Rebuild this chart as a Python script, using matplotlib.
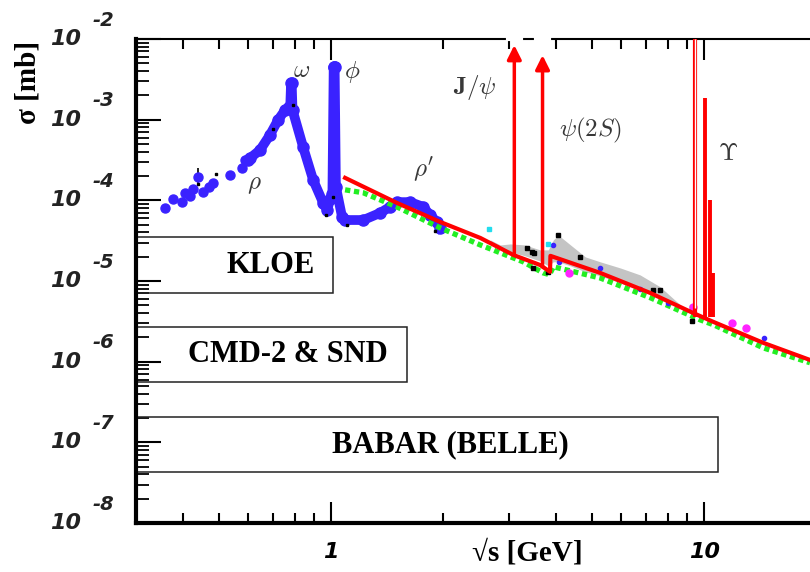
import numpy as np
import matplotlib
matplotlib.use("Agg")
import matplotlib.pyplot as plt
from matplotlib.patches import Rectangle
import matplotlib.transforms as mtransforms

plt.rcParams['mathtext.fontset'] = 'cm'

# low energy data (sparse points), GeV / mb
lo_x = [0.359, 0.377, 0.399, 0.406, 0.419, 0.427, 0.440, 0.454, 0.471, 0.483, 0.536, 0.577, 0.588]
lo_y = [8.05e-5, 1.04e-4, 9.5e-5, 1.24e-4, 1.13e-4, 1.38e-4, 1.95e-4, 1.27e-4, 1.47e-4, 1.64e-4, 2.06e-4, 2.52e-4, 3.17e-4]

# dense low energy data (rho, omega, phi, rho')
hd_x = [0.600, 0.607, 0.645, 0.686, 0.721, 0.753, 0.770, 0.777, 0.781, 0.784, 0.788, 0.841, 0.895,
        0.952, 0.976, 0.995, 1.008, 1.016, 1.019, 1.022, 1.03, 1.07, 1.09, 1.22, 1.353, 1.439, 1.50,
        1.63, 1.765, 1.84, 1.92, 1.96]
hd_y = [3.2e-4, 3.35e-4, 4.2e-4, 6.5e-4, 9.9e-4, 1.32e-3, 1.44e-3, 1.44e-3, 2.85e-3, 2.85e-3, 1.32e-3,
        4.6e-4, 1.79e-4, 9.3e-5, 7.6e-5, 1.05e-4, 1.2e-4, 4.5e-3, 4.5e-3, 4.5e-3, 1.47e-4, 6.2e-5, 5.7e-5,
        5.7e-5, 6.98e-5, 8.3e-5, 9.5e-5, 9.5e-5, 8.3e-5, 6.6e-5, 5.4e-5, 4.55e-5]
# small black points on top of the blue data
dk_x = [0.44, 0.49, 0.70, 0.79, 0.97, 1.01, 1.10, 1.85, 1.90]
dk_y = [1.6e-4, 2.1e-4, 7.6e-4, 1.5e-3, 6.5e-5, 1.1e-4, 5.0e-5, 6.0e-5, 4.2e-5]

# theory continuum (red)
red_x = [1.09, 1.50, 1.96, 2.51, 3.08, 3.63, 3.86, 3.87, 5.26, 7.17, 9.35, 10.6, 14.4, 19.2]
red_y = [1.90e-4, 9.3e-5, 5.4e-5, 3.42e-5, 2.1e-5, 1.58e-5, 1.30e-5, 2.05e-5, 1.26e-5, 7.1e-6, 4.0e-6,
         3.1e-6, 1.71e-6, 1.05e-6]

# second prediction (green)
green_x = [1.09, 1.22, 1.50, 1.96, 2.51, 3.27, 3.70, 3.85, 3.94, 5.26, 7.17, 9.75, 10.6, 14.4, 19.2]
green_y = [1.35e-4, 1.24e-4, 8.3e-5, 4.55e-5, 2.8e-5, 1.73e-5, 1.26e-5, 1.2e-5, 1.5e-5, 1.09e-5, 6.2e-6,
           3.3e-6, 2.86e-6, 1.48e-6, 9.7e-7]

# gray band of data between charm and bottom
gray_x = [2.67, 2.84, 3.02, 3.31, 3.63, 3.82, 3.94, 4.06, 4.38, 4.80, 5.26, 5.96, 6.73, 7.62, 8.62]
gray_hi = [3.23e-5, 2.80e-5, 2.88e-5, 2.80e-5, 2.43e-5, 2.43e-5, 3.23e-5, 3.72e-5, 2.80e-5, 1.99e-5,
           1.73e-5, 1.45e-5, 1.19e-5, 8.46e-6, 5.06e-6]
gray_lo = [3.0e-5, 2.57e-5, 2.30e-5, 2.05e-5, 1.77e-5, 1.54e-5, 1.73e-5, 1.73e-5, 1.54e-5, 1.30e-5,
           1.16e-5, 9.46e-6, 7.76e-6, 6.18e-6, 4.65e-6]

# scattered points at higher energy
blk_x = [3.35, 3.45, 3.50, 4.06, 3.48, 3.82, 4.65, 7.30, 7.60, 9.25, 9.25]
blk_y = [2.6e-5, 2.3e-5, 2.2e-5, 3.7e-5, 1.45e-5, 1.3e-5, 2.0e-5, 7.8e-6, 7.8e-6, 3.2e-6, 4.8e-6]
mag_x = [4.35, 9.30, 11.9, 12.9]
mag_y = [1.25e-5, 4.7e-6, 3.0e-6, 2.6e-6]
bl2_x = [3.94, 4.07, 5.26, 6.73, 8.0, 14.5]
bl2_y = [2.8e-5, 1.7e-5, 1.45e-5, 7.9e-6, 5.4e-6, 1.95e-6]
cyan_x = [2.65, 3.82]
cyan_y = [4.4e-5, 2.9e-5]

# resonances
arr_x = [3.097, 3.686]
arr_base = [2.1e-5, 1.5e-5]
arr_top = [8.4e-3, 6.3e-3]
ups1_x = 9.46
ups_x = [10.02, 10.355, 10.58]
ups_top = [1.86e-3, 1.0e-4, 1.26e-5]
ups_base = 3.6e-6

blue = '#3a22ff'
red = '#ff0000'
green = '#22ee22'

fig = plt.figure(figsize=(8.1, 5.72), dpi=100)
ax = fig.add_axes([136 / 810, 1 - 523 / 572, 674 / 810, 484 / 572])
ax.set_xscale('log')
ax.set_yscale('log')
ax.set_xlim(0.30, 19.2)
ax.set_ylim(1e-8, 1e-2)

ax.fill_between(gray_x, gray_lo, gray_hi, color='#c4c4c4', lw=0, zorder=1)

# low energy data
ax.plot(hd_x, hd_y, '-', color=blue, lw=7, solid_joinstyle='round', zorder=3)
ax.plot(hd_x, hd_y, 'o', color=blue, ms=8, zorder=3)
ax.errorbar(lo_x, lo_y, yerr=[[0, 0, 0, 0, 0, 0, 3.0e-5, 0, 0, 0, 0, 0, 0],
                              [0, 0, 0, 0, 0, 0, 5.7e-5, 0, 0, 0, 0, 0, 0]],
            fmt='o', color=blue, ms=6.5, ecolor='black', elinewidth=1.2, capsize=0, zorder=3)
ax.plot(dk_x, dk_y, 's', color='black', ms=2, zorder=3)

ax.plot(green_x, green_y, color=green, lw=3.8, ls=(0, (1, 0.7)), zorder=4)
ax.plot(red_x, red_y, color=red, lw=3, zorder=5)

ax.plot(blk_x, blk_y, 's', color='black', ms=2.5, zorder=4)
ax.plot(mag_x, mag_y, 'o', color='#ff22ff', ms=5, zorder=4)
ax.plot(bl2_x, bl2_y, 'o', color=blue, ms=3, zorder=4)
ax.plot(cyan_x, cyan_y, 's', color='#22ddee', ms=3, zorder=4)

# J/psi and psi(2S) arrows
top_tr = mtransforms.blended_transform_factory(ax.transData, ax.transAxes)
for x, b, t in zip(arr_x, arr_base, arr_top):
    ax.annotate('', xy=(x, t), xytext=(x, b),
                arrowprops=dict(arrowstyle='-|>,head_length=0.6,head_width=0.3',
                                color=red, lw=2.5, mutation_scale=14,
                                shrinkA=0, shrinkB=0), zorder=6)
    ax.plot([x / 1.041, x * 1.041], [1, 1], color='white', lw=3, transform=top_tr,
            clip_on=False, zorder=7)

# Upsilon
ax.vlines(ups1_x, ups_base, 1e-2, color=red, lw=3, zorder=6)
ax.vlines(ups1_x, ups_base * 1.3, 1e-2, color='white', lw=1, zorder=6)
ax.vlines(ups_x, ups_base, ups_top, color=red, lw=2.8, zorder=6)

# experiment boxes
box_kw = dict(fill=False, ec='#222222', lw=1.1, zorder=2)
ax.add_patch(Rectangle((0.30, 10 ** -5.147), 1.012 - 0.30, 10 ** -4.453 - 10 ** -5.147, **box_kw))
ax.add_patch(Rectangle((0.30, 10 ** -6.25), 1.599 - 0.30, 10 ** -5.569 - 10 ** -6.25, **box_kw))
ax.add_patch(Rectangle((0.30, 10 ** -7.366), 10.9 - 0.30, 10 ** -6.684 - 10 ** -7.366, **box_kw))
serif = dict(family=['Liberation Serif', 'DejaVu Serif'], weight='bold', fontsize=22)
ax.text(0.69, 1.54e-5, 'KLOE', ha='center', va='center', **serif)
ax.text(0.767, 1.21e-6, 'CMD-2 & SND', ha='center', va='center', **serif)
ax.text(2.085, 9.3e-8, 'BABAR (BELLE)', ha='center', va='center', **serif)

# resonance names
gk = dict(fontsize=18, color='#383838', ha='center', va='center')
ax.text(0.622, 1.6e-4, r'$\rho$', **gk)
ax.text(0.831, 4.13e-3, r'$\omega$', **gk)
ax.text(1.138, 3.9e-3, r'$\phi$', **gk)
ax.text(1.765, 2.38e-4, r"$\rho'$", **gk)
ax.text(2.43, 2.47e-3, r'$\mathbf{J}/\psi$', **gk)
ax.text(4.95, 7.45e-4, r'$\psi(2S)$', **gk)
ax.text(11.6, 3.87e-4, r'$\Upsilon$', **gk)

# axes styling
for s in ['left', 'bottom']:
    ax.spines[s].set_linewidth(3)
ax.spines['top'].set_linewidth(1.5)
ax.spines['right'].set_visible(False)
ax.tick_params(axis='y', which='major', direction='in', length=18, width=1.5, left=True, right=False,
               labelleft=False)
ax.tick_params(axis='y', which='minor', direction='in', length=9, width=1.3, left=True, right=False)
ax.tick_params(axis='x', which='major', direction='in', length=15, width=1.5, top=True, pad=14)
ax.tick_params(axis='x', which='minor', direction='in', length=7, width=1.5, top=True)
ax.set_xticks([1, 10])
ax.set_xticklabels(['1', '10'], fontsize=16, family='DejaVu Sans', weight='bold', style='oblique')
ax.xaxis.set_minor_locator(matplotlib.ticker.LogLocator(base=10, subs=np.arange(2, 10)))
ax.xaxis.set_minor_formatter(matplotlib.ticker.NullFormatter())
ax.yaxis.set_major_locator(matplotlib.ticker.LogLocator(base=10, numticks=10))
ax.yaxis.set_minor_locator(matplotlib.ticker.LogLocator(base=10, subs=np.arange(2, 10), numticks=20))

lab_tr = mtransforms.blended_transform_factory(fig.transFigure, ax.transData)
off = mtransforms.offset_copy(lab_tr, fig=fig, x=0, y=19, units='dots')
for e in range(-8, -1):
    ax.text(66 / 810, 10.0 ** e, '10', transform=lab_tr, ha='center', va='center', fontsize=16,
            family='DejaVu Sans', weight='bold', style='oblique', color='#222222')
    ax.text(93 / 810, 10.0 ** e, str(e), transform=off, ha='left', va='center', fontsize=14,
            family='DejaVu Sans', weight='bold', style='oblique', color='#222222')

fig.text(28 / 810, 1 - 82 / 572, 'σ [mb]', rotation=90, ha='center', va='center',
         family=['Liberation Serif', 'DejaVu Serif'], weight='bold', fontsize=21)
fig.text(527 / 810, 1 - 553 / 572, '√s [GeV]', ha='center', va='center',
         family=['Liberation Serif', 'DejaVu Serif'], weight='bold', fontsize=21)

fig.savefig('out.png', dpi=100)
